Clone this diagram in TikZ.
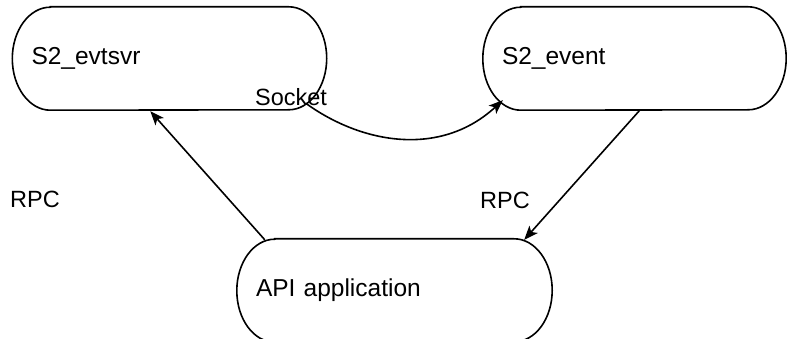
\documentclass[tikz,border=0pt]{standalone}
\usepackage{fontspec}
\setmainfont{Liberation Sans}
\usetikzlibrary{arrows.meta}

% stadium outline with half-elliptic ends around a named node
\newcommand\stadiumbox[1]{%
  \draw[boxline] ([xshift=38pt]#1.north west) -- ([xshift=-38pt]#1.north east)
    arc[start angle=90,end angle=-90,x radius=38pt,y radius=51.5pt]
    -- ([xshift=38pt]#1.south west)
    arc[start angle=270,end angle=90,x radius=38pt,y radius=51.5pt] -- cycle;}

\tikzset{
  boxline/.style={line width=1.6pt},
  procbox/.style={draw=none,minimum height=103pt,inner xsep=19pt,align=left,
    font=\fontsize{24.5}{28}\selectfont,anchor=center},
  lbl/.style={font=\fontsize{23.5}{27}\selectfont,inner sep=0pt},
  conn/.style={line width=1.6pt,-{Stealth[length=14pt,width=11pt,inset=3.5pt]}},
}

\begin{document}
\begin{tikzpicture}[x=1pt,y=-1pt]
  \useasboundingbox (0,0) rectangle (787,339);

  \node[procbox,text width=276pt] (evtsvr) at (169.5,58.5) {S2\_evtsvr};
  \node[procbox,text width=265pt] (event) at (634.5,58.5) {S2\_event};
  \node[procbox,text width=277pt] (api) at (394.5,290.5) {API application};

  \stadiumbox{evtsvr}
  \stadiumbox{event}
  \stadiumbox{api}

  \node[lbl] (socket) at (291,97) {Socket};
  \node[lbl] (rpcl) at (35,199) {RPC};
  \node[lbl] (rpcr) at (505,200) {RPC};

  \coordinate (a1s) at ([xshift=28pt,yshift=-1pt]api.north west);
  \coordinate (a1e) at ([xshift=138pt,yshift=-1pt]evtsvr.south west);
  \coordinate (a2s) at ([xshift=-21pt,yshift=7pt]evtsvr.south east);
  \coordinate (a2e) at ([xshift=20pt,yshift=10pt]event.south west);
  \coordinate (a3s) at ([xshift=157pt]event.south west);
  \coordinate (a3e) at ([xshift=-28pt,yshift=-1pt]api.north east);

  \draw[conn] (a1s) -- (a1e);
  \draw[conn] (a2s) .. controls ++(55,40) and ++(-63,58) .. (a2e);
  \draw[conn] (a3s) -- (a3e);
\end{tikzpicture}
\end{document}
